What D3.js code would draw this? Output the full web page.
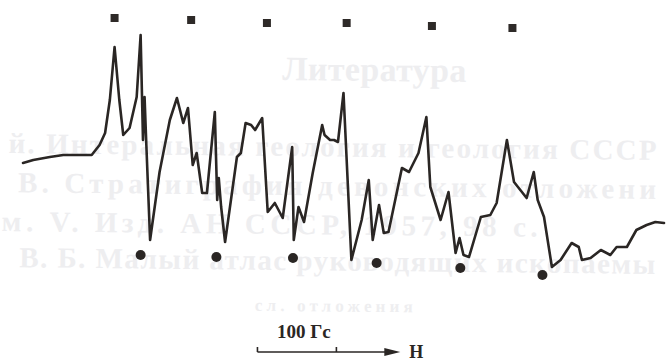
<!DOCTYPE html>
<html>
<head>
<meta charset="utf-8">
<script src="https://cdn.jsdelivr.net/npm/d3@7"></script>
<style>
  html, body { margin: 0; padding: 0; background: #fff; }
  svg { display: block; }
</style>
</head>
<body>
<svg id="chart"></svg>
<script>
// магнитное поле H, Гс (от начала записи)
const fieldH = [
  0, 13, 34, 51, 87, 97, 104, 110, 116, 122, 127, 135, 144, 149, 152, 154, 156, 161,
  173, 186, 195, 203, 209, 215, 220, 227, 233, 243, 246, 248, 251, 256,
  271, 276, 282, 289, 294, 303, 310, 319, 329, 341, 343, 349, 356, 367, 379, 382,
  389, 394, 399, 406, 416, 429, 438, 443, 451, 457, 463, 480, 489, 501, 511, 516,
  529, 539, 548, 553, 558, 565, 580, 592, 600, 613, 622, 638, 647, 652, 660, 670,
  681, 695, 704, 708, 719, 732, 744, 752, 765, 777, 790, 801, 812
];
// сигнал, усл. ед.
const signal = [
  0, 3, 6, 8, 8, 18, 30, 63, 116, 63, 28, 35, 66, 128, 23, 66, 23, -77,
  -9, 43, 65, 40, 55, -2, 10, -30, -30, 51, -37, -15, -44, -79,
  6, 10, 40, 38, 33, 45, -49, -40, -55, 16, -77, -44, -59, -10, 38, 28,
  23, 23, 21, 70, -97, -57, -17, -77, -42, -70, -69, -5, -9, 10, 46, -24,
  -57, -29, -90, -75, -92, -94, -54, -52, -40, 23, -19, -35, -9, -37, -54, -104,
  -97, -80, -84, -97, -95, -87, -92, -84, -84, -67, -62, -59, -60
];

// метки линий: квадраты сверху, кружки снизу
const squareH = [116, 213, 309, 410, 518, 620];
const squareS = [145, 143, 140, 140, 137, 135];
const circleH = [149, 245, 342, 448, 554, 658];
const circleS = [-92, -94, -95, -100, -105, -112];

// масштабная линейка
const scaleBarH = [297, 397, 478];
const scaleLabel = '100 Гс';
const axisLabel = 'H';

// просвечивающий текст с соседней страницы
const ghostLines = [
  { text: 'Литература', x: 283, y: 77, size: 34, len: 184 },
  { text: 'й. Интеральная геология и геология СССР', x: 10, y: 153, size: 29, len: 648 },
  { text: 'В.  Стратиграфия девонских отложени', x: 20, y: 192, size: 29, len: 638 },
  { text: 'м. V. Изд. АН СССР, 1957, 98 с.', x: 4, y: 231, size: 29, len: 536 },
  { text: 'В. Б. Малый атлас руководящих ископаемы', x: 22, y: 267, size: 29, len: 636 },
  { text: 'сл. отложения', x: 258, y: 308, size: 17, len: 158 }
];

const width = 668;
const height = 362;

const svg = d3.select('#chart')
  .attr('width', width)
  .attr('height', height)
  .attr('viewBox', `0 0 ${width} ${height}`);

const x = d3.scaleLinear().domain([0, 812]).range([23, 664]);
const y = d3.scaleLinear().domain([0, 100]).range([163, 63]);

// фон
svg.append('g')
  .attr('transform', 'rotate(0.6 0 0)')
  .selectAll('text')
  .data(ghostLines)
  .join('text')
  .attr('x', d => d.x)
  .attr('y', d => d.y)
  .attr('textLength', d => d.len)
  .attr('lengthAdjust', 'spacing')
  .attr('font-family', '"Liberation Serif", "DejaVu Serif", serif')
  .attr('font-weight', 'bold')
  .attr('font-size', d => d.size)
  .attr('fill', '#eeeef0')
  .text(d => d.text);

const points = fieldH.map((h, i) => [h, signal[i]]);

const line = d3.line()
  .x(d => x(d[0]))
  .y(d => y(d[1]));

svg.append('path')
  .datum(points)
  .attr('fill', 'none')
  .attr('stroke', '#2a2624')
  .attr('stroke-width', 2.6)
  .attr('stroke-linejoin', 'round')
  .attr('stroke-linecap', 'round')
  .attr('d', line);

// квадраты
svg.append('g')
  .selectAll('rect')
  .data(squareH.map((h, i) => [h, squareS[i]]))
  .join('rect')
  .attr('x', d => x(d[0]) - 4)
  .attr('y', d => y(d[1]) - 4)
  .attr('width', 8)
  .attr('height', 8)
  .attr('fill', '#2e2a28');

// кружки
svg.append('g')
  .selectAll('circle')
  .data(circleH.map((h, i) => [h, circleS[i]]))
  .join('circle')
  .attr('cx', d => x(d[0]))
  .attr('cy', d => y(d[1]))
  .attr('r', 5)
  .attr('fill', '#2a2624');

// линейка 100 Гс
const barY = 352;
const bar = svg.append('g')
  .attr('stroke', '#2a2624')
  .attr('stroke-width', 1.6)
  .attr('fill', 'none');

bar.append('line')
  .attr('x1', x(scaleBarH[0]))
  .attr('x2', x(scaleBarH[2]) - 6)
  .attr('y1', barY)
  .attr('y2', barY);

bar.selectAll('.tick')
  .data(scaleBarH.slice(0, 2))
  .join('line')
  .attr('class', 'tick')
  .attr('x1', d => x(d))
  .attr('x2', d => x(d))
  .attr('y1', barY)
  .attr('y2', barY - 5);

svg.append('path')
  .attr('d', `M${x(scaleBarH[2]) - 16},${barY - 4} L${x(scaleBarH[2])},${barY} L${x(scaleBarH[2]) - 16},${barY + 4} Z`)
  .attr('fill', '#2a2624');

svg.append('text')
  .attr('x', (x(scaleBarH[0]) + x(scaleBarH[1])) / 2 + 7)
  .attr('y', 338)
  .attr('text-anchor', 'middle')
  .attr('font-family', '"Liberation Serif", "DejaVu Serif", serif')
  .attr('font-weight', 'bold')
  .attr('font-size', 19)
  .attr('fill', '#2a2624')
  .text(scaleLabel);

svg.append('text')
  .attr('x', x(scaleBarH[2]) + 9)
  .attr('y', 358)
  .attr('font-family', '"Liberation Serif", "DejaVu Serif", serif')
  .attr('font-weight', 'bold')
  .attr('font-size', 18)
  .attr('fill', '#2a2624')
  .text(axisLabel);
</script>
</body>
</html>
